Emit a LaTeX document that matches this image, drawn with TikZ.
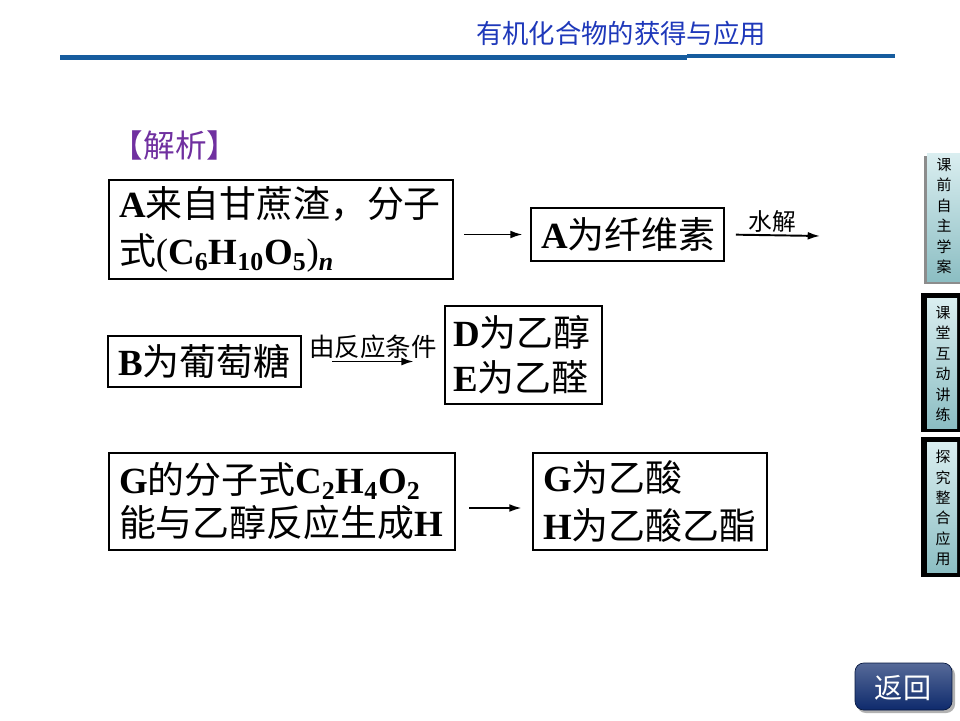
\documentclass[tikz,border=0pt]{standalone}
\usepackage{fontspec}
\setmainfont{Liberation Serif}
\newfontfamily\cjk{Noto Sans CJK SC}
\usetikzlibrary{arrows.meta, positioning}

\definecolor{hdrblue}{RGB}{30,56,186}
\definecolor{barblue}{RGB}{22,92,158}
\definecolor{jxpurple}{RGB}{112,48,160}
\definecolor{tablight}{RGB}{218,238,240}
\definecolor{tabdark}{RGB}{140,190,195}
\definecolor{btnblue}{RGB}{14,42,108}

% bold serif for the letters and formulas
\newcommand{\lb}[1]{{\rmfamily\bfseries #1}}

\begin{document}
\begin{tikzpicture}[
        x=0.02cm, y=-0.02cm,
        every node/.style={font=\cjk},
        box/.style={draw, line width=1.6pt, align=left, inner xsep=0.2cm, inner ysep=0pt,
            font=\cjk\fontsize{21}{27}\selectfont},
        arr/.style={-{Latex[length=7pt, width=4.5pt]}, line width=1.1pt},
        cond/.style={font=\cjk\fontsize{13.5}{15}\selectfont, inner sep=1pt},
        tabtxt/.style={align=center, font=\cjk\fontsize{8.5}{11.6}\selectfont},
        tabfill/.style={top color=tablight, bottom color=tabdark}
    ]
    \useasboundingbox (0,0) rectangle (960,720);
    \fill[white] (0,0) rectangle (960,720);

    % header
    \node[font=\cjk\fontsize{15}{18}\selectfont, text=hdrblue] (hdr) at (621,33) {有机化合物的获得与应用};
    \fill[barblue] (60,55) rectangle (687,60);
    \fill[barblue] (687,54) rectangle (895,58);

    \node[font=\cjk\fontsize{18}{20}\selectfont, text=jxpurple] (jx) at (175,145) {【解析】};

    % boxes
    \node[box, text width=6.48cm, minimum height=1.98cm] (srcA) at (281,229.5)
        {\lb{A}来自甘蔗渣，分子\\式{\rmfamily(}\lb{C\textsubscript{6}H\textsubscript{10}O\textsubscript{5}}{\rmfamily)}\textsubscript{\lb{\itshape n}}};
    \node[box, text width=3.46cm, minimum height=1.06cm] (cel) at (627.5,234.5) {\lb{A}为纤维素};
    \node[box, text width=3.46cm, minimum height=1.02cm] (glu) at (204.5,361.5) {\lb{B}为葡萄糖};
    \node[box, inner xsep=0.16cm, text width=2.82cm, minimum height=1.96cm, font=\cjk\fontsize{21}{25.6}\selectfont] (ethl) at (523.5,355)
        {\lb{D}为乙醇\\\lb{E}为乙醛};
    \node[box, text width=6.52cm, minimum height=1.94cm, font=\cjk\fontsize{21}{24.5}\selectfont] (gfrm) at (282,501.5)
        {\lb{G}的分子式\lb{C\textsubscript{2}H\textsubscript{4}O\textsubscript{2}}\\能与乙醇反应生成\lb{H}};
    \node[box, text width=4.28cm, minimum height=1.94cm] (gres) at (650,501.5)
        {\lb{G}为乙酸\\\lb{H}为乙酸乙酯};

    % arrows
    \coordinate (hydEnd) at (820,236);
    \draw[arr, shorten <=5.7pt, shorten >=4pt] (srcA.east |- cel.west) -- (cel.west);
    \draw[arr, shorten <=6pt] (cel.east) -- node[cond, above] {水解} (hydEnd);
    \draw[arr, shorten <=17pt, shorten >=17pt] (glu.east) -- node[cond, above, font=\cjk\fontsize{14.5}{16}\selectfont] {由反应条件} (glu.east -| ethl.west);
    \draw[arr, shorten <=7.4pt, shorten >=5.7pt] ([yshift=-0.13cm]gfrm.east) -- ([yshift=-0.13cm]gres.west);

    % side tabs
    \fill[black!45] (924,156) rectangle (960,284);
    \shade[tabfill] (927,153) rectangle (960,281);
    \node[tabtxt] (tabA) at (944,216) {课\\前\\自\\主\\学\\案};
    \fill[black] (921,293) rectangle (960,432);
    \shade[tabfill] (927,298) rectangle (957,428);
    \node[tabtxt] (tabB) at (943,364) {课\\堂\\互\\动\\讲\\练};
    \fill[black] (921,437) rectangle (960,577);
    \shade[tabfill] (927,442) rectangle (957,572);
    \node[tabtxt] (tabC) at (943,508) {探\\究\\整\\合\\应\\用};

    % back button
    \fill[black!30, rounded corners=5pt] (857,666) rectangle (955,713);
    \shade[top color=btnblue!70, bottom color=btnblue, rounded corners=5pt, draw=btnblue!60!black]
        (855,663) rectangle (952,710);
    \node[text=white, font=\cjk\fontsize{16}{18}\selectfont] (back) at (903,688) {返回};
\end{tikzpicture}
\end{document}
